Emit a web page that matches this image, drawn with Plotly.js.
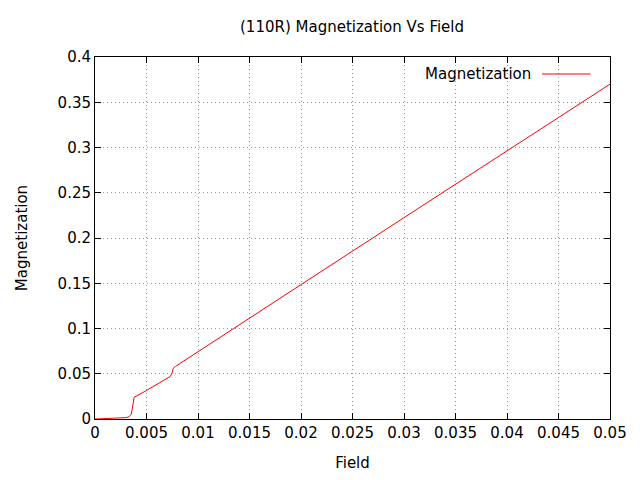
<!DOCTYPE html>
<html>
<head>
<script src="https://cdn.plot.ly/plotly-3.0.1.min.js"></script>
<style>body{margin:0}</style>
</head>
<body>
<div id="chart" style="width:640px;height:480px"></div>
<script>
var field = [0, 0.001, 0.002, 0.003, 0.0033, 0.0035, 0.0036, 0.0037, 0.0038, 0.005, 0.006, 0.007, 0.0073, 0.0075, 0.0076, 0.0078, 0.01, 0.02, 0.03, 0.04, 0.05];
var magnet = [0, 0.0003, 0.0008, 0.0015, 0.0025, 0.005, 0.01, 0.018, 0.024, 0.0315, 0.038, 0.0445, 0.047, 0.051, 0.056, 0.058, 0.0745, 0.1485, 0.2225, 0.2965, 0.37];

var font = { family: 'DejaVu Sans, sans-serif', size: 15, color: '#000' };
var ax = {
    showline: true, mirror: 'ticks', linecolor: '#000', linewidth: 1,
    ticks: 'inside', ticklen: 6, tickcolor: '#000',
    tickfont: { size: 15 },
    showgrid: true, gridcolor: '#999', griddash: '1px,3px', gridwidth: 1,
    zeroline: false
};

var data = [{
    x: field, y: magnet, type: 'scatter', mode: 'lines',
    name: 'Magnetization', line: { color: '#ff0000', width: 1 }
}];

var layout = {
    width: 640, height: 480,
    margin: { l: 95, r: 30, t: 57, b: 61 },
    font: font,
    title: { text: '(110R) Magnetization Vs Field', x: 0.55, y: 0.955, font: { size: 15 } },
    xaxis: Object.assign({}, ax, { range: [0, 0.05], dtick: 0.005, title: { text: 'Field', standoff: 16, font: { size: 15 } } }),
    yaxis: Object.assign({}, ax, { range: [0, 0.4], dtick: 0.05, title: { text: 'Magnetization', standoff: 26, font: { size: 15 } } }),
    showlegend: false,
    annotations: [{
        xref: 'paper', yref: 'paper', x: 0.85, y: 0.953, xanchor: 'right', yanchor: 'middle',
        text: 'Magnetization', showarrow: false, font: { size: 15 }
    }],
    shapes: [{
        type: 'line', xref: 'paper', yref: 'paper', x0: 0.868, x1: 0.962, y0: 0.953, y1: 0.953,
        line: { color: '#ff0000', width: 1 }
    }],
    plot_bgcolor: '#fff', paper_bgcolor: '#fff'
};

Plotly.newPlot('chart', data, layout, { displayModeBar: false });
</script>
</body>
</html>
